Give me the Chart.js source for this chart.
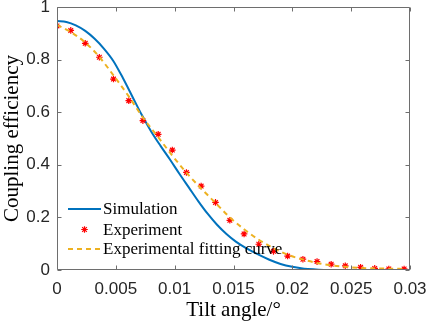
<!DOCTYPE html>
<html>
<head>
<meta charset="utf-8">
<script src="https://cdn.jsdelivr.net/npm/chart.js@4.4.0/dist/chart.umd.min.js"></script>
<style>
  html, body { margin: 0; padding: 0; background: #fff; }
</style>
</head>
<body>
<canvas id="couplingCanvas" width="429" height="326"></canvas>
<script>
// values
const simAngle = [0, 0.0008, 0.0016, 0.0024, 0.0032, 0.004, 0.0048, 0.0056, 0.0064, 0.0072, 0.008, 0.0088, 0.0096, 0.0104, 0.0112, 0.012, 0.0128, 0.0136, 0.0144, 0.0152, 0.016, 0.017, 0.018, 0.019, 0.02, 0.021, 0.022, 0.023, 0.03];
const simEff = [0.947, 0.943, 0.93, 0.909, 0.879, 0.841, 0.794, 0.73, 0.66, 0.59, 0.527, 0.472, 0.42, 0.366, 0.314, 0.262, 0.214, 0.172, 0.137, 0.108, 0.085, 0.061, 0.04, 0.023, 0.012, 0.005, 0.002, 0, 0];

const expAngle = [0, 0.00117, 0.0024, 0.0036, 0.0048, 0.0061, 0.0073, 0.0086, 0.0098, 0.011, 0.01225, 0.01347, 0.01469, 0.0159, 0.01715, 0.0184, 0.0196, 0.0209, 0.0221, 0.0233, 0.0245, 0.0258, 0.027, 0.0282, 0.0295];
const expEff = [0.928, 0.911, 0.862, 0.809, 0.726, 0.644, 0.568, 0.516, 0.456, 0.371, 0.319, 0.257, 0.189, 0.137, 0.098, 0.071, 0.053, 0.041, 0.032, 0.022, 0.016, 0.01, 0.006, 0.004, 0.004];

const fitAngle = [0, 0.00117, 0.0024, 0.0036, 0.0048, 0.0061, 0.0073, 0.0086, 0.0098, 0.011, 0.01225, 0.01347, 0.01469, 0.0159, 0.01715, 0.0184, 0.0196, 0.0209, 0.0221, 0.0233, 0.0245, 0.0258, 0.027, 0.0282, 0.0295];
const fitEff = [0.932, 0.905, 0.865, 0.81, 0.74, 0.66, 0.58, 0.505, 0.435, 0.37, 0.31, 0.255, 0.2, 0.155, 0.115, 0.083, 0.058, 0.04, 0.027, 0.018, 0.012, 0.008, 0.006, 0.005, 0.004];

const xTickLabels = ["0", "0.005", "0.01", "0.015", "0.02", "0.025", "0.03"];
const yTickLabels = ["0", "0.2", "0.4", "0.6", "0.8", "1"];

const toPoints = (xs, ys) => xs.map((v, i) => ({ x: v, y: ys[i] }));

const axisColor = "#6e6e6e";
const tickFont = { family: "'Liberation Sans', Arial, sans-serif", size: 17 };
const serif = "'Liberation Serif', 'Times New Roman', serif";

// MATLAB style box with inward ticks
const boxAxes = {
    id: "boxAxes",
    afterDraw(chart) {
        const ctx = chart.ctx;
        const a = chart.chartArea;
        const xs = chart.scales.x;
        const ys = chart.scales.y;
        const L = Math.round(a.left) + 0.5, R = Math.round(a.right) - 0.5;
        const T = Math.round(a.top) + 0.5, B = Math.round(a.bottom) - 0.5;
        ctx.save();
        ctx.strokeStyle = axisColor;
        ctx.lineWidth = 1;
        ctx.beginPath();
        ctx.rect(L, T, R - L, B - T);
        xs.ticks.forEach(t => {
            const p = Math.round(xs.getPixelForValue(t.value)) + 0.5;
            ctx.moveTo(p, B); ctx.lineTo(p, B - 4);
            ctx.moveTo(p, T); ctx.lineTo(p, T + 4);
        });
        ys.ticks.forEach(t => {
            const p = Math.round(ys.getPixelForValue(t.value)) + 0.5;
            ctx.moveTo(L, p); ctx.lineTo(L + 4, p);
            ctx.moveTo(R, p); ctx.lineTo(R - 4, p);
        });
        ctx.stroke();
        ctx.restore();
    }
};

// legend drawn inside the plot, lower left, no box
const insideLegend = {
    id: "insideLegend",
    afterDatasetsDraw(chart) {
        const ctx = chart.ctx;
        const a = chart.chartArea;
        const x0 = a.left + 11, x1 = a.left + 44, tx = a.left + 46;
        const rows = [a.bottom - 61, a.bottom - 40.5, a.bottom - 21];
        ctx.save();
        ctx.font = "17px " + serif;
        ctx.textBaseline = "middle";
        chart.data.datasets.forEach((ds, i) => {
            const y = rows[i];
            ctx.strokeStyle = ds.borderColor;
            if (ds.showLine) {
                ctx.lineWidth = ds.borderWidth;
                ctx.setLineDash(ds.borderDash || []);
                ctx.beginPath();
                ctx.moveTo(x0, y);
                ctx.lineTo(x1, y);
                ctx.stroke();
                ctx.setLineDash([]);
            } else {
                ctx.lineWidth = ds.pointBorderWidth;
                Chart.helpers.drawPoint(ctx, { pointStyle: ds.pointStyle, radius: ds.pointRadius, rotation: 0, borderWidth: ds.pointBorderWidth }, (x0 + x1) / 2, y);
            }
            ctx.fillStyle = "#000";
            ctx.fillText(ds.label, tx, y + 1);
        });
        ctx.restore();
    }
};

new Chart(document.getElementById("couplingCanvas"), {
    type: "scatter",
    data: {
        datasets: [
            {
                label: "Simulation",
                data: toPoints(simAngle, simEff),
                showLine: true,
                borderColor: "#0072BD",
                borderWidth: 2,
                pointRadius: 0,
                cubicInterpolationMode: "monotone",
                order: 3,
            },
            {
                label: "Experiment",
                data: toPoints(expAngle, expEff),
                showLine: false,
                pointStyle: "star",
                pointRadius: 3.3,
                borderColor: "#FF0000",
                backgroundColor: "#FF0000",
                pointBorderWidth: 1.2,
                order: 2,
            },
            {
                label: "Experimental fitting curve",
                data: toPoints(fitAngle, fitEff),
                showLine: true,
                borderColor: "#EDB120",
                borderWidth: 2,
                borderDash: [5, 4],
                pointRadius: 0,
                cubicInterpolationMode: "monotone",
                order: 1,
            },
        ],
    },
    options: {
        responsive: false,
        animation: false,
        layout: { padding: { top: 7, right: 19, left: 0, bottom: 0 } },
        plugins: {
            legend: { display: false },
            tooltip: { enabled: false },
        },
        scales: {
            x: {
                type: "linear",
                min: 0,
                max: 0.03,
                ticks: {
                    stepSize: 0.005,
                    padding: 9,
                    color: "#262626",
                    font: tickFont,
                    maxRotation: 0,
                    callback: (v, i) => xTickLabels[i],
                },
                grid: { display: false, drawTicks: false },
                border: { display: false },
                title: {
                    display: true,
                    text: "Tilt angle/°",
                    color: "#000",
                    font: { family: serif, size: 21 },
                    padding: { top: 0, bottom: 3 },
                },
                afterFit(s) { s.height = 56; s.paddingLeft = 0; s.paddingRight = 0; },
            },
            y: {
                min: 0,
                max: 1,
                ticks: {
                    stepSize: 0.2,
                    padding: 7,
                    color: "#262626",
                    font: tickFont,
                    callback: (v, i) => yTickLabels[i],
                },
                grid: { display: false, drawTicks: false },
                border: { display: false },
                title: {
                    display: true,
                    text: "Coupling efficiency",
                    color: "#000",
                    font: { family: serif, size: 21 },
                    padding: { top: 0, bottom: 0 },
                },
                afterFit(s) { s.width = 57; s.paddingTop = 0; s.paddingBottom = 0; },
            },
        },
    },
    plugins: [insideLegend, boxAxes],
});
</script>
</body>
</html>
